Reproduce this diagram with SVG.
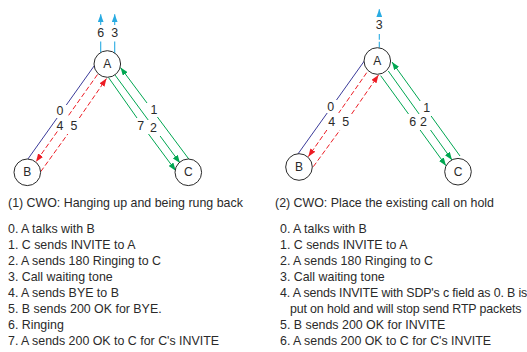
<svg xmlns="http://www.w3.org/2000/svg" width="527" height="352" viewBox="0 0 527 352">
  <style>
    text { font-family: "Liberation Sans", Arial, sans-serif; font-size: 12.4px; fill: #2a2a2a; }
    .num { text-anchor: middle; dominant-baseline: central; }
    .node circle { fill: #ffffff; stroke: #2a2a2a; stroke-width: 1; }
    .node text { text-anchor: middle; dominant-baseline: central; font-size: 12px; }
    .talk { fill: none; stroke: #3b3b9a; stroke-width: 1; }
    .red { fill: none; stroke: #ed1c24; stroke-width: 1; stroke-dasharray: 5 2.5; marker-end: url(#ah-red); }
    .green { fill: none; stroke: #00a651; stroke-width: 1; marker-end: url(#ah-green); }
    .tone { fill: none; stroke: #29abe2; stroke-width: 1.1; }
    .tone-arrow { fill: none; stroke: #29abe2; stroke-width: 1.1; marker-end: url(#ah-blue); }
    .tight { letter-spacing: -0.14px; }
  </style>
  <defs>
    <marker id="ah-red" viewBox="0 0 8 6" refX="8" refY="3" markerWidth="8" markerHeight="6" markerUnits="userSpaceOnUse" orient="auto">
      <path d="M0,0 L8,3 L0,6 Z" fill="#ed1c24"/>
    </marker>
    <marker id="ah-green" viewBox="0 0 8 6" refX="8" refY="3" markerWidth="8" markerHeight="6" markerUnits="userSpaceOnUse" orient="auto">
      <path d="M0,0 L8,3 L0,6 Z" fill="#00a651"/>
    </marker>
    <marker id="ah-blue" viewBox="0 0 8 6" refX="8" refY="3" markerWidth="8" markerHeight="6" markerUnits="userSpaceOnUse" orient="auto">
      <path d="M0,0 L8,3 L0,6 Z" fill="#29abe2"/>
    </marker>
  </defs>

  <!-- connectors -->
  <g id="connectors">
    <!-- (1) left scenario -->
    <path class="talk" d="M94.3,65.7 L66.3,105 M57.1,118 L27.7,159.3"/>
    <path class="red" d="M97.5,74.5 L68.5,115.5 M57.3,131.5 L36,161.7"/>
    <path class="red" d="M40.7,171.7 L67.8,134 M79.3,118 L106.5,78.5"/>
    <path class="green" d="M108.5,77.5 L137,118 M148.5,134 L175.7,170.7"/>
    <path class="green" d="M115,75 L148.2,120 M160.1,136 L180,163"/>
    <path class="green" d="M189,159.3 L157.4,117 M147,103 L120.5,67.5"/>
    <path class="tone" d="M100.7,52.8 L100.7,41.5"/>
    <path class="tone-arrow" d="M100.7,25 L100.7,14.3"/>
    <path class="tone" d="M114.7,53.2 L114.7,41.5"/>
    <path class="tone-arrow" d="M114.7,25 L114.7,14.3"/>

    <!-- (2) right scenario -->
    <path class="talk" d="M364.3,61 L336.5,100 M327.2,113 L297.7,154.3"/>
    <path class="red" d="M366.7,72.7 L338.7,113 M326.9,130 L308.3,156.7"/>
    <path class="red" d="M313.3,166.7 L340,130 M351.6,114 L378.5,75"/>
    <path class="green" d="M380.7,75.7 L408.5,114 M420.1,130 L446,165.7"/>
    <path class="green" d="M388.3,71 L419.1,114 M430.5,130 L452,160"/>
    <path class="green" d="M460,156 L431.1,116 M420.2,101 L392,62"/>
    <path class="tone" stroke-dasharray="6 2" d="M379.3,47.8 L379.3,34"/>
    <path class="tone-arrow" d="M379.3,16.5 L379.3,9.3"/>
  </g>

  <!-- connector labels -->
  <g id="labels">
    <text class="num" x="60" y="111">0</text>
    <text class="num" x="60" y="126">4</text>
    <text class="num" x="74" y="126">5</text>
    <text class="num" x="154" y="110">1</text>
    <text class="num" x="140.7" y="126">7</text>
    <text class="num" x="153.5" y="127.5">2</text>
    <text class="num" x="100.7" y="33.3">6</text>
    <text class="num" x="114.7" y="33.3">3</text>

    <text class="num" x="330.7" y="106.7">0</text>
    <text class="num" x="331.7" y="122">4</text>
    <text class="num" x="345.7" y="122">5</text>
    <text class="num" x="426.7" y="108.3">1</text>
    <text class="num" x="412.7" y="121.7">6</text>
    <text class="num" x="423.5" y="121.7">2</text>
    <text class="num" x="379.3" y="25">3</text>
  </g>

  <!-- nodes, scenario 1 -->
  <g id="node-a1" class="node"><circle cx="107.3" cy="64" r="13.3"/><text x="107.3" y="64">A</text></g>
  <g id="node-b1" class="node"><circle cx="27.3" cy="172.3" r="13.3"/><text x="27.3" y="172.3">B</text></g>
  <g id="node-c1" class="node"><circle cx="188.3" cy="172.3" r="13.3"/><text x="188.3" y="172.3">C</text></g>

  <!-- nodes, scenario 2 -->
  <g id="node-a2" class="node"><circle cx="377.3" cy="61" r="13.3"/><text x="377.3" y="61">A</text></g>
  <g id="node-b2" class="node"><circle cx="299" cy="167" r="13.3"/><text x="299" y="167">B</text></g>
  <g id="node-c2" class="node"><circle cx="458" cy="171.7" r="13.3"/><text x="458" y="171.7">C</text></g>

  <!-- captions and step lists -->
  <g id="legend-1">
    <text x="8" y="206.6">(1) CWO: Hanging up and being rung back</text>
    <text x="8" y="232.7">0. A talks with B</text>
    <text x="8" y="248.7">1. C sends INVITE to A</text>
    <text x="8" y="264.8">2. A sends 180 Ringing to C</text>
    <text x="8" y="280.8">3. Call waiting tone</text>
    <text x="8" y="296.8">4. A sends BYE to B</text>
    <text x="8" y="312.9">5. B sends 200 OK for BYE.</text>
    <text x="8" y="328.9">6. Ringing</text>
    <text x="8" y="345">7. A sends 200 OK to C for C's INVITE</text>
  </g>
  <g id="legend-2">
    <text x="275" y="206.6">(2) CWO: Place the existing call on hold</text>
    <text x="280" y="232.7">0. A talks with B</text>
    <text x="280" y="248.7">1. C sends INVITE to A</text>
    <text x="280" y="264.8">2. A sends 180 Ringing to C</text>
    <text x="280" y="280.8">3. Call waiting tone</text>
    <text class="tight" x="280" y="296.8">4. A sends INVITE with SDP's c field as 0. B is</text>
    <text class="tight" x="290" y="312.9">put on hold and will stop send RTP packets</text>
    <text x="280" y="328.9">5. B sends 200 OK for INVITE</text>
    <text x="280" y="345">6. A sends 200 OK to C for C's INVITE</text>
  </g>
</svg>
